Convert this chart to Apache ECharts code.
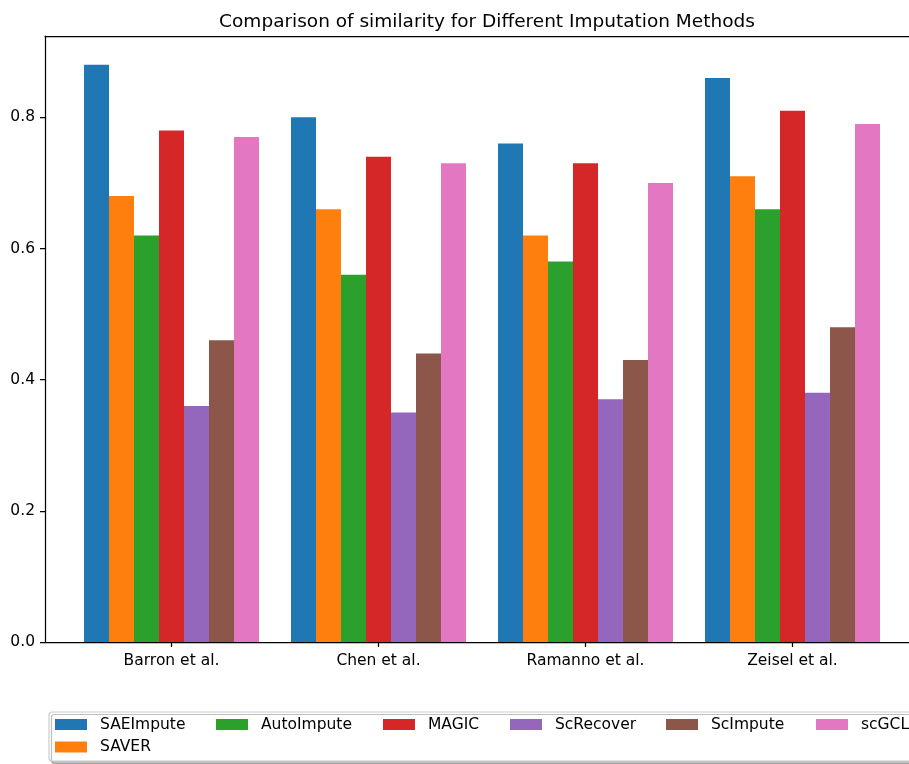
<!DOCTYPE html>
<html>
<head>
<meta charset="utf-8">
<script src="https://cdn.jsdelivr.net/npm/echarts@6/dist/echarts.min.js"></script>
<style>
  html, body { margin: 0; padding: 0; background: #fff; }
  #chart { width: 909px; height: 764px; }
</style>
</head>
<body>
<div id="chart"></div>
<script>
// Datasets on the x axis
const datasets = ['Barron et al.', 'Chen et al.', 'Ramanno et al.', 'Zeisel et al.'];

// Similarity per imputation method, one value per dataset
const methods = ['SAEImpute', 'SAVER', 'AutoImpute', 'MAGIC', 'ScRecover', 'ScImpute', 'scGCL'];
const SAEImpute  = [0.88, 0.80, 0.76, 0.86];
const SAVER      = [0.68, 0.66, 0.62, 0.71];
const AutoImpute = [0.62, 0.56, 0.58, 0.66];
const MAGIC      = [0.78, 0.74, 0.73, 0.81];
const ScRecover  = [0.36, 0.35, 0.37, 0.38];
const ScImpute   = [0.46, 0.44, 0.43, 0.48];
const scGCL      = [0.77, 0.73, 0.70, 0.79];

// Y tick values
const yTicks = [0.0, 0.2, 0.4, 0.6, 0.8];

const valuesByMethod = [SAEImpute, SAVER, AutoImpute, MAGIC, ScRecover, ScImpute, scGCL];
const palette = ['#1f77b4', '#ff7f0e', '#2ca02c', '#d62728', '#9467bd', '#8c564b', '#e377c2'];

const FONT = 'DejaVu Sans';
const Y_MAX = 0.924;

// Frame (spines) spans the padded x range; bars live in an inner grid of whole category bands.
// Band centres land on half pixels so the 25px bars meet on whole pixels.
const frameLeft = 45, gridTop = 36, gridHeight = 606;
const band = 207;                         // pixels per category
const innerLeft = 68;
const padPx = innerLeft - frameLeft + band / 2;   // first category centre from the left spine
const frameWidth = band * 3 + 2 * padPx;
const innerWidth = band * datasets.length;
const barW = 25;

const series = methods.map((name, i) => ({
  name: name,
  type: 'bar',
  xAxisIndex: 0,
  yAxisIndex: 0,
  barWidth: barW,
  barGap: '0%',
  itemStyle: { color: palette[i] },
  data: valuesByMethod[i],
  silent: true
}));

// legend slots: [name, left, top]
const legendSlots = [
  ['SAEImpute', 55, 715.5],
  ['SAVER', 55, 738],
  ['AutoImpute', 216, 715.5],
  ['MAGIC', 383, 715.5],
  ['ScRecover', 510, 715.5],
  ['ScImpute', 666, 715.5],
  ['scGCL', 816, 715.5]
];
const legends = legendSlots.map(([name, left, top]) => ({
  data: [name],
  left: left,
  top: top,
  padding: 0,
  itemWidth: 32,
  itemHeight: 11,
  icon: 'rect',
  selectedMode: false,
  itemStyle: { borderWidth: 0 },
  textStyle: {
    fontFamily: FONT, fontSize: 15.5, color: '#000',
    lineHeight: 18, padding: [0, 0, 0, 8]
  }
}));

const axisLineStyle = { color: '#000', width: 1.25 };

const option = {
  backgroundColor: '#fff',
  animation: false,
  title: {
    text: 'Comparison of similarity for Different Imputation Methods',
    left: frameLeft + frameWidth / 2,
    textAlign: 'center',
    top: 8,
    textStyle: { fontFamily: FONT, fontSize: 18.5, fontWeight: 'normal', color: '#000' }
  },
  legend: legends,
  graphic: [{
    type: 'rect',
    z: -1,
    shape: { x: 49, y: 712, width: 900, height: 49, r: 3 },
    style: {
      fill: '#fff', stroke: '#cccccc', lineWidth: 1.2,
      shadowColor: 'rgba(0,0,0,0.25)', shadowOffsetX: 2.5, shadowOffsetY: 2.5, shadowBlur: 0
    }
  }],
  grid: [
    { left: innerLeft, top: gridTop, width: innerWidth, height: gridHeight },
    { left: frameLeft, top: gridTop, width: frameWidth, height: gridHeight }
  ],
  xAxis: [{
    type: 'category',
    gridIndex: 0,
    data: datasets,
    axisLine: { show: false },
    axisTick: { show: true, alignWithLabel: true, length: 5, lineStyle: axisLineStyle },
    axisLabel: { margin: 11, fontFamily: FONT, fontSize: 15.5, color: '#000', interval: 0 }
  }, {
    type: 'value',
    gridIndex: 1,
    min: 0, max: 1,
    position: 'bottom',
    splitLine: { show: false },
    axisLine: { lineStyle: axisLineStyle },
    axisTick: { show: false },
    axisLabel: { show: false }
  }, {
    type: 'value',
    gridIndex: 1,
    min: 0, max: 1,
    position: 'top',
    splitLine: { show: false },
    axisLine: { lineStyle: axisLineStyle },
    axisTick: { show: false },
    axisLabel: { show: false }
  }],
  yAxis: [{
    type: 'value',
    gridIndex: 0,
    min: 0, max: Y_MAX,
    show: false
  }, {
    type: 'value',
    gridIndex: 1,
    min: 0, max: Y_MAX,
    interval: 0.2,
    splitLine: { show: false },
    axisLine: { show: true, onZero: false, lineStyle: axisLineStyle },
    axisTick: { show: true, customValues: yTicks, length: 5, lineStyle: axisLineStyle },
    axisLabel: {
      customValues: yTicks,
      formatter: v => v.toFixed(1),
      margin: 10,
      fontFamily: FONT, fontSize: 15.5, color: '#000'
    }
  }],
  series: series
};

const chart = echarts.init(document.getElementById('chart'), null, { renderer: 'canvas' });
chart.setOption(option);
</script>
</body>
</html>
